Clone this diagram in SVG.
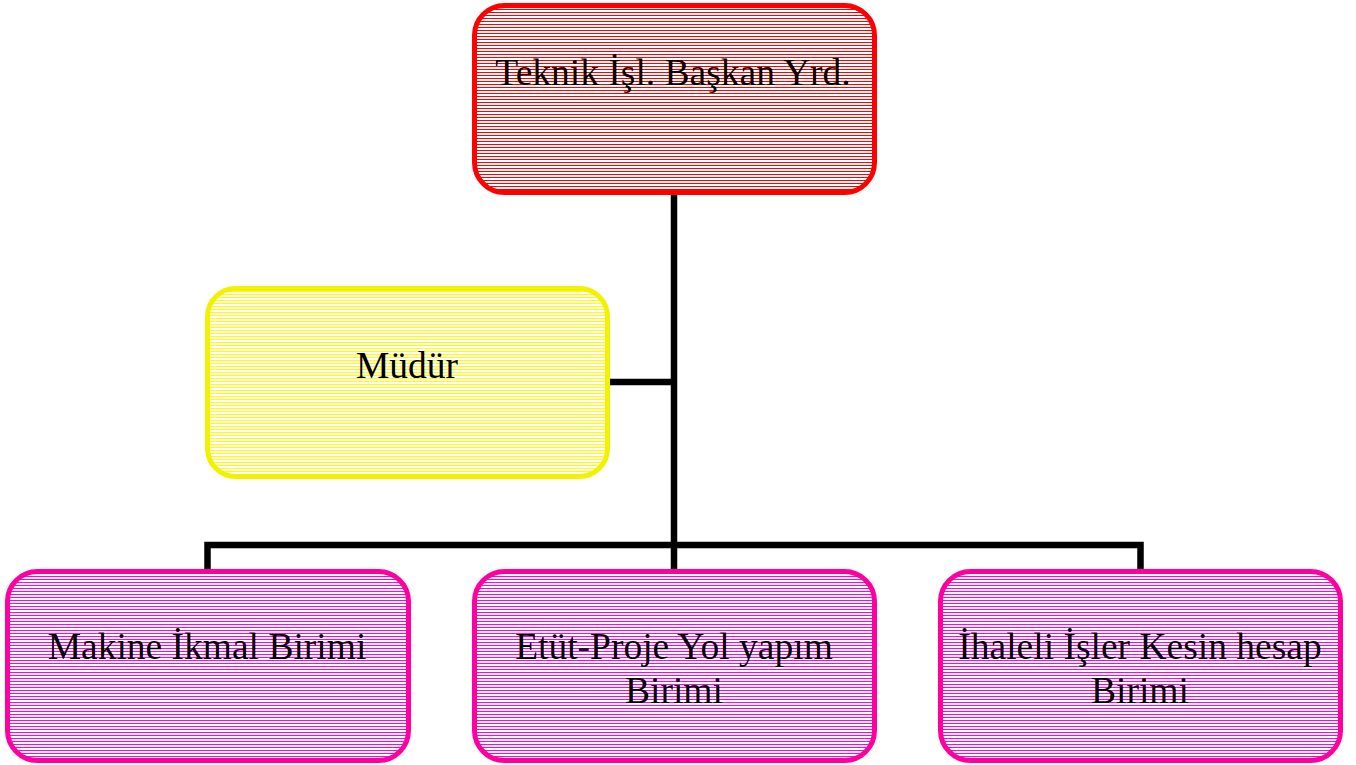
<svg xmlns="http://www.w3.org/2000/svg" width="1356" height="765" viewBox="0 0 1356 765">
<style>
.box{stroke-width:5}
.lbl{font-family:"Liberation Serif","Times New Roman",serif;font-size:37.5px;fill:#000;text-anchor:middle}
.conn{stroke:#000;stroke-width:6.5;fill:none}
</style>
<defs>
<pattern id="pRed" width="4" height="3" patternUnits="userSpaceOnUse"><rect width="4" height="3" fill="#fff"/><rect width="4" height="1" fill="#ff0000"/></pattern>
<pattern id="pYel" width="4" height="3" patternUnits="userSpaceOnUse"><rect width="4" height="3" fill="#fff"/><rect width="4" height="1" fill="#ffff00"/></pattern>
<pattern id="pPink" width="4" height="3" patternUnits="userSpaceOnUse"><rect width="4" height="3" fill="#fff"/><rect width="4" height="1" fill="#ff00ff"/></pattern>
</defs>
<rect width="1356" height="765" fill="#fff"/>
<g id="connectors">
<path class="conn" d="M674,194 V570"/>
<path class="conn" d="M610,382 H674"/>
<path class="conn" d="M207.5,570 V545 H1140.5 V570"/>
</g>
<g id="n-top">
<rect class="box" x="474.5" y="5.5" width="400" height="187" rx="30" fill="url(#pRed)" stroke="#ff0000"/>
<text class="lbl" x="673" y="85">Teknik İşl. Başkan Yrd.</text>
</g>
<g id="n-mudur">
<rect class="box" x="207.5" y="288.5" width="400" height="188" rx="28" fill="url(#pYel)" stroke="#f2f200"/>
<text class="lbl" x="407" y="378">Müdür</text>
</g>
<g id="n-makine">
<rect class="box" x="7.5" y="571.5" width="401" height="189" rx="30" fill="url(#pPink)" stroke="#ff00a0"/>
<text class="lbl" x="207" y="659">Makine İkmal Birimi</text>
</g>
<g id="n-etut">
<rect class="box" x="474.5" y="571.5" width="400" height="189" rx="30" fill="url(#pPink)" stroke="#ff00a0"/>
<text class="lbl" x="674" y="659">Etüt-Proje Yol yapım</text>
<text class="lbl" x="674" y="703">Birimi</text>
</g>
<g id="n-ihaleli">
<rect class="box" x="940.5" y="571.5" width="400" height="189" rx="30" fill="url(#pPink)" stroke="#ff00a0"/>
<text class="lbl" x="1140" y="659">İhaleli İşler Kesin hesap</text>
<text class="lbl" x="1140" y="703">Birimi</text>
</g>
</svg>
